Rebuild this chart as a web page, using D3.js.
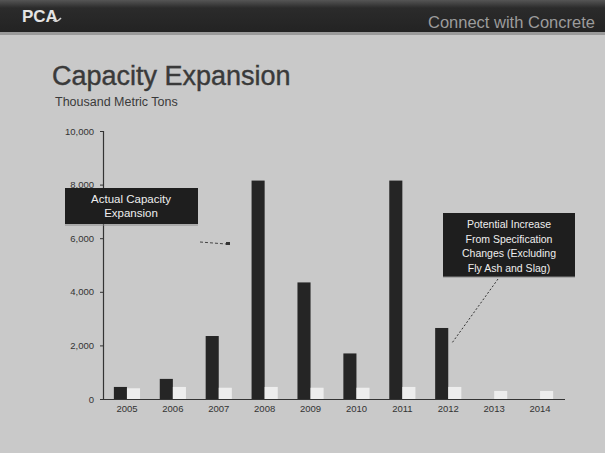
<!DOCTYPE html>
<html>
<head>
<meta charset="utf-8">
<script src="https://cdn.jsdelivr.net/npm/d3@7"></script>
<style>
  html, body { margin: 0; padding: 0; background: #c9c9c9; }
  svg { display: block; }
  text { font-family: "Liberation Sans", Arial, sans-serif; }
</style>
</head>
<body>
<svg id="chart" width="605" height="453"></svg>
<script>
// Years on the horizontal axis
const categories = ["2005", "2006", "2007", "2008", "2009", "2010", "2011", "2012", "2013", "2014"];
// Actual capacity expansion, thousand metric tons
const actualExpansion = [450, 750, 2350, 8150, 4350, 1700, 8150, 2650, 0, 0];
// Potential increase from specification changes, thousand metric tons
const potentialIncrease = [400, 450, 420, 450, 420, 420, 450, 450, 300, 300];
// Value axis ticks
const yTicks = [0, 2000, 4000, 6000, 8000, 10000];
const seriesNames = ["actual", "potential"];

const svg = d3.select("#chart");
const W = 605, H = 453;

// Header band
const defs = svg.append("defs");
const hg = defs.append("linearGradient").attr("id", "hdr").attr("x1", 0).attr("y1", 0).attr("x2", 0).attr("y2", 1);
hg.append("stop").attr("offset", "0%").attr("stop-color", "#555");
hg.append("stop").attr("offset", "25%").attr("stop-color", "#2b2b2b");
hg.append("stop").attr("offset", "100%").attr("stop-color", "#232323");
svg.append("rect").attr("x", 0).attr("y", 0).attr("width", W).attr("height", 32).attr("fill", "url(#hdr)");
svg.append("rect").attr("x", 0).attr("y", 32).attr("width", W).attr("height", 3).attr("fill", "#9a9a9a");

svg.append("text").attr("x", 22).attr("y", 22).attr("font-size", 17).attr("font-weight", "bold")
  .attr("fill", "#e4e4e4").text("PCA");
svg.append("path").attr("d", "M53,20 q4,3 8,-2").attr("stroke", "#cfcfcf").attr("stroke-width", 1.5).attr("fill", "none");

svg.append("text").attr("x", 428).attr("y", 28).attr("font-size", 16.5)
  .attr("fill", "#9c9c9c").text("Connect with Concrete");

// Titles
svg.append("text").attr("x", 52).attr("y", 85).attr("font-size", 27)
  .attr("fill", "#3a3a3a").attr("stroke", "#3a3a3a").attr("stroke-width", 0.4)
  .text("Capacity Expansion");
svg.append("text").attr("x", 55).attr("y", 106).attr("font-size", 12.5)
  .attr("fill", "#3a3a3a").text("Thousand Metric Tons");

// Scales
const x = d3.scaleBand().domain(categories).range([104, 563]).paddingInner(0.43).paddingOuter(0.215);
const xs = d3.scaleBand().domain(seriesNames).range([0, x.bandwidth()]);
const y = d3.scaleLinear().domain([0, 10000]).range([399, 131]);

// Value axis
const yAxis = d3.axisLeft(y).tickValues(yTicks).tickFormat(d3.format(",")).tickSize(3).tickPadding(6);
const gy = svg.append("g").attr("transform", "translate(103,0)").call(yAxis);
gy.select(".domain").attr("stroke", "#333").attr("stroke-width", 1.2);
gy.selectAll(".tick line").attr("stroke", "#333");
gy.selectAll(".tick text").attr("font-size", 9.5).attr("fill", "#333")
  .style("font-family", "Liberation Sans, Arial, sans-serif");

// Category axis
const xAxis = d3.axisBottom(x).tickSize(0).tickPadding(6);
const gx = svg.append("g").attr("transform", "translate(0,399)").call(xAxis);
gx.select(".domain").attr("stroke", "#333").attr("stroke-width", 1.2).attr("d", "M103,0.5H565");
gx.selectAll(".tick text").attr("font-size", 9.5).attr("fill", "#333")
  .style("font-family", "Liberation Sans, Arial, sans-serif");

// Bars
const groups = svg.append("g").selectAll("g").data(categories).join("g")
  .attr("transform", d => `translate(${x(d)},0)`);

groups.append("rect")
  .attr("x", xs("actual"))
  .attr("y", (d, i) => y(actualExpansion[i]))
  .attr("width", xs.bandwidth())
  .attr("height", (d, i) => y(0) - y(actualExpansion[i]))
  .attr("fill", "#252525");

groups.append("rect")
  .attr("x", xs("potential"))
  .attr("y", (d, i) => y(potentialIncrease[i]))
  .attr("width", xs.bandwidth())
  .attr("height", (d, i) => y(0) - y(potentialIncrease[i]))
  .attr("fill", "#ededed");

// Callout: actual capacity expansion
const leftBox = svg.append("g");
leftBox.append("rect").attr("x", 65).attr("y", 188).attr("width", 133).attr("height", 36).attr("fill", "#1e1e1e");
leftBox.append("line").attr("x1", 65).attr("x2", 198).attr("y1", 225).attr("y2", 225).attr("stroke", "#8a8a8a");
leftBox.selectAll("text").data(["Actual Capacity", "Expansion"]).join("text")
  .attr("x", 131).attr("y", (d, i) => 203 + i * 14)
  .attr("text-anchor", "middle").attr("font-size", 11.5).attr("fill", "#eee").text(d => d);
svg.append("line").attr("x1", 200).attr("y1", 242).attr("x2", 226).attr("y2", 244)
  .attr("stroke", "#444").attr("stroke-dasharray", "3,2");
svg.append("rect").attr("x", 226).attr("y", 242).attr("width", 4).attr("height", 3).attr("fill", "#333");

// Callout: potential increase
const rightBox = svg.append("g");
rightBox.append("rect").attr("x", 443).attr("y", 213).attr("width", 132).attr("height", 64).attr("fill", "#1e1e1e");
rightBox.append("line").attr("x1", 443).attr("x2", 575).attr("y1", 277).attr("y2", 277).attr("stroke", "#8a8a8a");
rightBox.selectAll("text")
  .data(["Potential Increase", "From Specification", "Changes (Excluding", "Fly Ash and Slag)"]).join("text")
  .attr("x", 509).attr("y", (d, i) => 228 + i * 14.5)
  .attr("text-anchor", "middle").attr("font-size", 10.5).attr("fill", "#eee").text(d => d);
svg.append("line").attr("x1", 498).attr("y1", 279).attr("x2", 452).attr("y2", 343)
  .attr("stroke", "#333").attr("stroke-width", 1).attr("stroke-dasharray", "2,2");
</script>
</body>
</html>
